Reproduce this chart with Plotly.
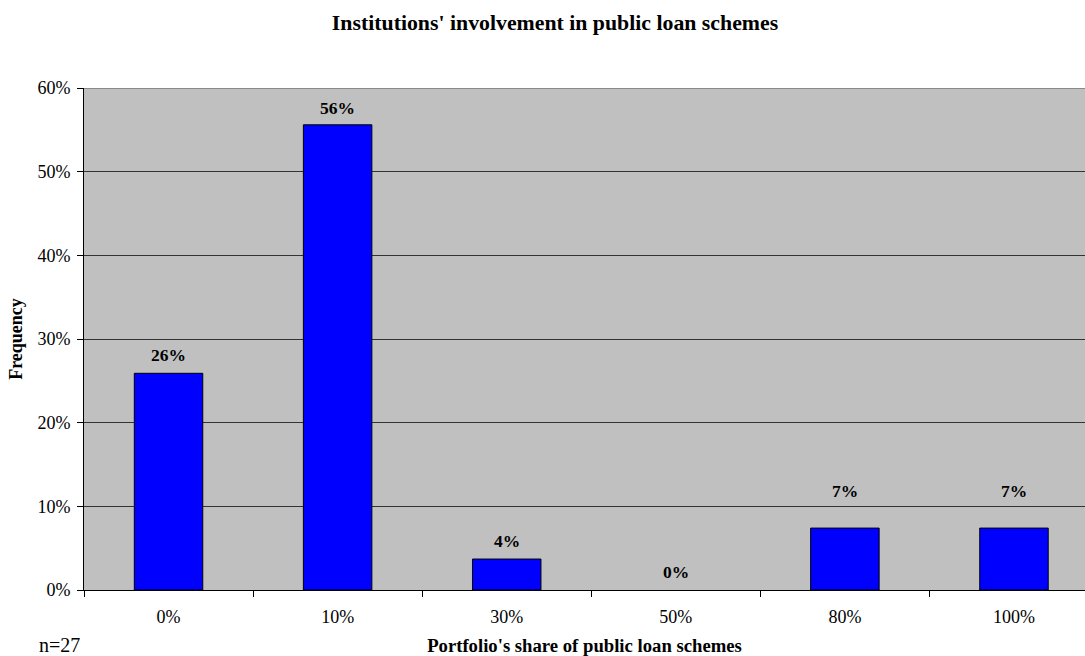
import plotly.graph_objects as go

# Survey of institutions (n=27): share of portfolio in public loan schemes
categories = ["0%", "10%", "30%", "50%", "80%", "100%"]
frequency = [0.259, 0.556, 0.037, 0.0, 0.074, 0.074]
label_text = ["26%", "56%", "4%", "0%", "7%", "7%"]
label_shift = [18, 17, 18, 18, 37, 37]

SERIF = "Liberation Serif, Times New Roman, serif"

fig = go.Figure()
fig.add_trace(go.Bar(
    x=categories,
    y=frequency,
    width=0.405,
    marker=dict(
        color="#0000FF",
        line=dict(color="#000000", width=[1 if v > 0 else 0 for v in frequency]),
    ),
    hoverinfo="skip",
))

# value labels above the bars
for cat, val, txt, sh in zip(categories, frequency, label_text, label_shift):
    fig.add_annotation(
        x=cat, y=val, text=f"<b>{txt}</b>", showarrow=False,
        yanchor="middle", yshift=sh,
        font=dict(family=SERIF, size=17.5, color="#000000"),
    )

fig.add_annotation(
    text="n=27", xref="paper", yref="paper", x=-0.047, y=-0.11,
    xanchor="left", yanchor="middle", showarrow=False,
    font=dict(family=SERIF, size=20, color="#000000"),
)

# upper edge of the plotting area
fig.add_shape(type="line", xref="paper", yref="y", x0=0, x1=1, y0=0.6, y1=0.6,
              line=dict(color="#8A8A8A", width=2))

fig.update_layout(
    width=1085, height=656,
    margin=dict(l=84, r=0, t=88, b=66),
    paper_bgcolor="#FFFFFF",
    plot_bgcolor="#C0C0C0",
    showlegend=False,
    title=dict(
        text="<b>Institutions' involvement in public loan schemes</b>",
        x=555 / 1085, xanchor="center", y=1 - 22 / 656, yanchor="middle",
        font=dict(family=SERIF, size=21.8, color="#000000"),
    ),
    xaxis=dict(
        type="category",
        range=[-0.5, 5.42],
        showgrid=False,
        showline=True, linecolor="#000000", linewidth=1,
        ticks="outside", tickson="boundaries", ticklen=6, tickcolor="#000000",
        ticklabelstandoff=10,
        tickfont=dict(family=SERIF, size=18, color="#000000"),
        title=dict(text="<b>Portfolio's share of public loan schemes</b>",
                   font=dict(family=SERIF, size=18.7, color="#000000"), standoff=14),
        fixedrange=True,
    ),
    yaxis=dict(
        range=[0, 0.6], dtick=0.1, tickformat=".0%",
        showgrid=True, gridcolor="#333333", gridwidth=1,
        zeroline=False,
        showline=True, linecolor="#000000", linewidth=1,
        ticks="outside", ticklen=6, tickcolor="#000000",
        ticklabelstandoff=3,
        tickfont=dict(family=SERIF, size=18, color="#000000"),
        title=dict(text="<b>Frequency</b>",
                   font=dict(family=SERIF, size=18, color="#000000"), standoff=10),
        fixedrange=True,
    ),
)

fig.write_html("out.html")
